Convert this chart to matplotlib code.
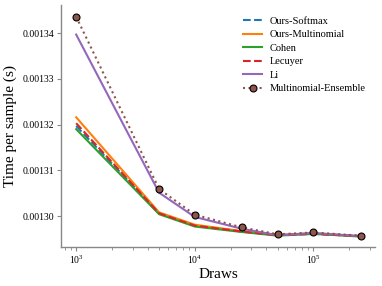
import matplotlib
matplotlib.use("Agg")
import matplotlib.pyplot as plt

plt.rcParams['font.family'] = ['Liberation Serif', 'DejaVu Serif']
plt.rcParams['mathtext.fontset'] = 'stix'

draws = [1000, 5000, 10000, 25000, 50000, 100000, 250000]
ours_softmax = [0.0013197, 0.0013006, 0.0012979, 0.0012966, 0.0012958, 0.0012961, 0.0012956]
ours_multinomial = [0.0013216, 0.0013008, 0.0012981, 0.0012967, 0.0012959, 0.0012962, 0.0012956]
cohen = [0.0013190, 0.0013004, 0.0012977, 0.0012965, 0.0012957, 0.0012961, 0.0012955]
lecuyer = [0.0013203, 0.0013006, 0.0012979, 0.0012966, 0.0012958, 0.0012961, 0.0012956]
li = [0.0013397, 0.0013051, 0.0012998, 0.0012972, 0.0012958, 0.0012963, 0.0012956]
ensemble = [0.0013436, 0.0013059, 0.0013003, 0.0012975, 0.0012960, 0.0012964, 0.0012957]

fig = plt.figure(figsize=(3.82, 2.86), dpi=100)
ax = fig.add_axes([0.160, 0.136, 0.822, 0.847])

lw = 1.5
ax.plot(draws, ours_softmax, color='#1f77b4', ls='--', lw=lw, label='Ours-Softmax')
ax.plot(draws, ours_multinomial, color='#ff7f0e', ls='-', lw=lw, label='Ours-Multinomial')
ax.plot(draws, cohen, color='#2ca02c', ls='-', lw=lw, label='Cohen')
ax.plot(draws, lecuyer, color='#d62728', ls='--', lw=lw, label='Lecuyer')
ax.plot(draws, li, color='#9467bd', ls='-', lw=lw, label='Li')
ax.plot(draws, ensemble, color='#8c564b', ls=':', lw=lw, marker='o', ms=5,
        markeredgecolor='black', markeredgewidth=0.8, label='Multinomial-Ensemble')

ax.set_xscale('log')
ax.set_xlim(10**2.873, 10**5.52)
ax.set_ylim(0.0012932, 0.0013462)
ax.set_yticks([0.00130, 0.00131, 0.00132, 0.00133, 0.00134])
ax.set_yticklabels(['0.00130', '0.00131', '0.00132', '0.00133', '0.00134'])

for s in ['top', 'right']:
    ax.spines[s].set_visible(False)
for s in ['left', 'bottom']:
    ax.spines[s].set_color('#888888')
    ax.spines[s].set_linewidth(1.0)
ax.tick_params(axis='both', which='major', labelsize=7, length=3, width=0.8, color='#888888', pad=2)
ax.tick_params(axis='x', which='minor', length=2, width=0.6, color='#888888')

ax.set_xlabel('Draws', fontsize=11, labelpad=1)
ax.set_ylabel('Time per sample (s)', fontsize=11, labelpad=4)

ax.legend(loc='upper right', fontsize=7.5, frameon=False, handlelength=1.9,
          handletextpad=0.7, labelspacing=0.4, bbox_to_anchor=(1.0, 0.99))

fig.savefig('out.png', dpi=100)
